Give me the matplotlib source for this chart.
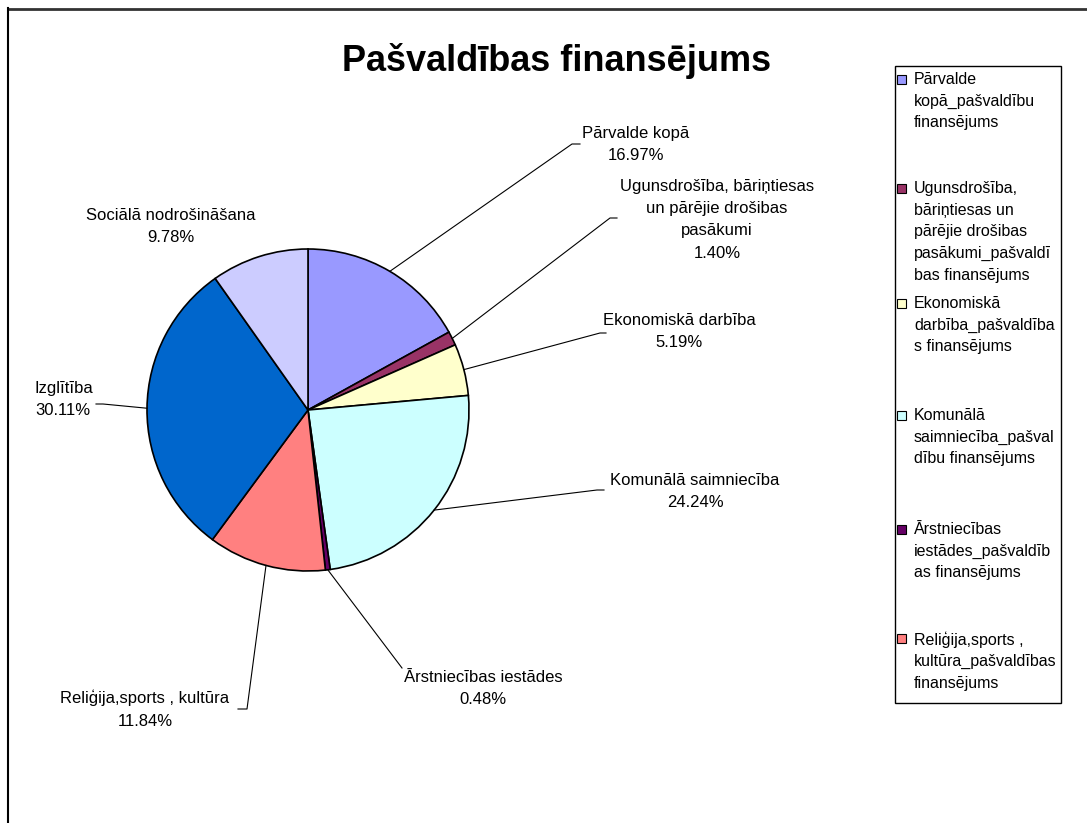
import numpy as np
import matplotlib.pyplot as plt
from matplotlib.patches import Rectangle
from matplotlib.lines import Line2D

plt.rcParams["font.family"] = ["Liberation Sans", "DejaVu Sans"]

W, H = 1087, 823

# Data
categories = [
    "Pārvalde kopā",
    "Ugunsdrošība, bāriņtiesas\nun pārējie drošibas\npasākumi",
    "Ekonomiskā darbība",
    "Komunālā saimniecība",
    "Ārstniecības iestādes",
    "Reliģija,sports , kultūra",
    "Izglītība",
    "Sociālā nodrošināšana",
]
shares = [16.97, 1.40, 5.19, 24.24, 0.48, 11.84, 30.11, 9.78]
colors = ["#9999FF", "#993366", "#FFFFCC", "#CCFFFF", "#660066",
          "#FF8080", "#0066CC", "#CCCCFF"]
legend_labels = [
    "Pārvalde\nkopā_pašvaldību\nfinansējums",
    "Ugunsdrošība,\nbāriņtiesas un\npārējie drošibas\npasākumi_pašvaldī\nbas finansējums",
    "Ekonomiskā\ndarbība_pašvaldība\ns finansējums",
    "Komunālā\nsaimniecība_pašval\ndību finansējums",
    "Ārstniecības\niestādes_pašvaldīb\nas finansējums",
    "Reliģija,sports ,\nkultūra_pašvaldības\nfinansējums",
]

# layout (pixel coords, y from top)
cx, cy, R = 308, 410, 161
label_pos = [(636, 133), (717, 186), (679, 320), (695, 480),
             (483, 677), (145, 697), (35, 388), (171, 215)]
leader_end = [[(572, 144), (580, 144)],
              [(610, 218), (617, 218)],
              [(600, 333), (606, 333)],
              [(597, 490), (604, 490)],
              [(402, 668), (402, 668)],
              [(247, 709), (238, 709)],
              [(103, 404), (96, 404)],
              None]
legend_y = [79, 188, 303, 415, 529, 638]

fig = plt.figure(figsize=(W / 100, H / 100), dpi=100)
ax = fig.add_axes([0, 0, 1, 1])


def py(y):
    return H - y


wedges, _ = ax.pie(shares, colors=colors, startangle=90, counterclock=False,
                   center=(cx, py(cy)), radius=R,
                   wedgeprops=dict(edgecolor="black", linewidth=1.2))
ax.set_xlim(0, W)
ax.set_ylim(0, H)
ax.set_aspect("auto")
ax.axis("off")

# data labels with leader lines
cum = np.cumsum([0] + shares[:-1])
for i, (name, val) in enumerate(zip(categories, shares)):
    lx, ly = label_pos[i]
    ha = "left" if i == 6 else "center"
    ax.text(lx, py(ly) + 7, f"{name}\n{val:.2f}%", ha=ha, va="top",
            fontsize=12, linespacing=1.6, color="black")
    if leader_end[i] is None:
        continue
    mid = np.deg2rad(90 - (cum[i] + val / 2) * 3.6)
    x0 = cx + R * np.cos(mid)
    y0 = cy - R * np.sin(mid)
    xs = [x0] + [p[0] for p in leader_end[i]]
    ys = [py(y0)] + [py(p[1]) for p in leader_end[i]]
    ax.plot(xs, ys, color="black", linewidth=0.8)

# title
ax.text(557, py(61), "Pašvaldības finansējums", ha="center", va="center",
        fontsize=26, fontweight="bold")

# legend box
ax.add_patch(Rectangle((895, py(703)), 1061 - 895, 703 - 66,
                       facecolor="white", edgecolor="black", linewidth=1))
for lab, col, ly in zip(legend_labels, colors, legend_y):
    ax.add_patch(Rectangle((897, py(ly) - 4.5), 9, 9, facecolor=col,
                           edgecolor="black", linewidth=0.8))
    ax.text(914, py(ly) + 7, lab, ha="left", va="top", fontsize=11.5,
            linespacing=1.55)

# outer frame
ax.add_line(Line2D([8, W], [py(8.5), py(8.5)], color="#333333", linewidth=2))
ax.add_line(Line2D([8, 8], [py(8), 0], color="black", linewidth=1.5))

fig.savefig("out.png", dpi=100)
